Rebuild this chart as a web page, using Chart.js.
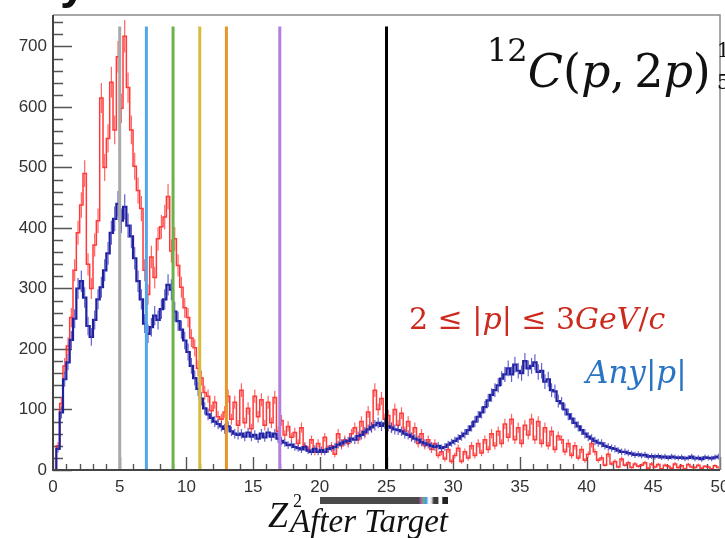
<!DOCTYPE html>
<html>
<head>
<meta charset="utf-8">
<script src="https://cdn.jsdelivr.net/npm/chart.js@4/dist/chart.umd.min.js"></script>
<style>
  html, body { margin: 0; padding: 0; background: #fff; overflow: hidden; }
  #wrap { position: relative; width: 725px; height: 538px; overflow: hidden; background: #fff; }
  canvas { position: absolute; left: 0; top: 0; }
  .t { position: absolute; white-space: nowrap; line-height: 1; font-family: 'DejaVu Serif', serif; }
  .it { font-style: italic; }
</style>
</head>
<body>
<div id="wrap">
  <canvas id="c" width="725" height="538"></canvas>

  <div class="t" style="left:60px; top:-46px; font:bold 48px 'Liberation Sans', sans-serif; color:#111;">y</div>

  <div class="t" style="left:487px; top:48px; font-size:46px; color:#111;"><span style="font-size:32px; position:relative; top:-26px;">12</span><span class="it">C</span>(<span class="it">p</span>,&thinsp;2<span class="it">p</span>)</div>
  <div class="t" style="left:717px; top:40px; font-size:20px; color:#111;">1</div>
  <div class="t" style="left:717px; top:72px; font-size:20px; color:#111;">5</div>

  <div class="t" style="left:409px; top:304px; font-size:30px; color:#cc2a1e;">2 ≤ |<span class="it">p</span>| ≤ 3<span class="it">GeV</span>/<span class="it">c</span></div>
  <div class="t" style="left:586px; top:357px; font-size:31px; color:#2a74c4;"><span class="it">Any</span>|<span class="it">p</span>|</div>

  <div class="t" style="left:268px; top:497px; font-family:'Liberation Serif', serif; font-size:36px; color:#111;"><span class="it">Z</span></div>
  <div class="t" style="left:293px; top:492px; font-family:'Liberation Serif', serif; font-size:18px; color:#111;">2</div>
  <div class="t" style="left:290px; top:505px; font-family:'Liberation Serif', serif; font-size:33px; color:#111;"><span class="it">After Target</span></div>
  <div style="position:absolute; left:320px; top:497px; width:128px; height:7px;
       background:linear-gradient(to right, #4a4a4a 0%, #4a4a4a 77%, #c050c0 79%, #50c060 81%, #4090ff 83%, #ffffff 85%, #e0e0e0 87%, #3a3a3a 89%, #3a3a3a 92%, #fff 93%, #fff 95%, #222 96%, #222 100%);"></div>
</div>

<script>
// Z^2 histograms, bins of 0.25 from 0 to 50
const binWidth = 0.25;

// all momenta
const anyP = [
  0, 35, 95, 150,
  178, 215, 250, 300,
  312, 285, 238, 220,
  248, 282, 302, 330,
  358, 392, 415, 440,
  412, 435, 404, 386,
  350, 312, 282, 242,
  225, 236, 255, 248,
  266, 282, 306, 298,
  262, 246, 232, 214,
  195, 172, 152, 134,
  118, 102, 92, 86,
  80, 76, 72, 68,
  72, 64, 60, 58,
  60, 55, 62, 55,
  58, 52, 60, 54,
  62, 55, 60, 52,
  48, 45, 41, 42,
  38, 36, 34, 38,
  32, 30, 35, 30,
  33, 30, 35, 36,
  38, 42, 44, 47,
  48, 52, 50, 56,
  58, 63, 67, 71,
  74, 78, 73, 77,
  72, 70, 67, 66,
  64, 60, 58, 55,
  52, 50, 46, 44,
  42, 40, 38, 40,
  36, 38, 42, 45,
  48, 52, 56, 60,
  66, 72, 80, 88,
  95, 104, 115, 124,
  132, 140, 151, 158,
  168, 158, 174, 164,
  160, 180, 168, 172,
  178, 162, 164, 146,
  150, 132, 130, 114,
  110, 100, 92, 85,
  78, 72, 66, 60,
  55, 52, 48, 45,
  44, 40, 38, 36,
  35, 32, 30, 30,
  28, 27, 25, 26,
  24, 25, 22, 23,
  22, 23, 21, 22,
  20, 22, 21, 20,
  21, 19, 20, 22,
  19, 20, 18, 21,
  20, 19, 21, 22
];

// 2 <= |p| <= 3 GeV/c
const p2to3 = [
  0, 40, 110, 172,
  205, 252, 330, 392,
  438, 490, 340, 300,
  372, 412, 615, 500,
  548, 641, 562, 683,
  598, 717, 632, 562,
  502, 462, 432, 330,
  290, 352, 318, 382,
  402, 418, 452, 362,
  382, 338, 302, 268,
  252, 218, 202, 168,
  152, 128, 122, 98,
  112, 88, 84, 96,
  122, 84, 112, 74,
  132, 78, 102, 68,
  122, 88, 116, 74,
  112, 78, 120, 64,
  82, 58, 72, 54,
  62, 44, 70, 40,
  34, 50, 30, 44,
  30, 54, 34, 40,
  26, 60, 40, 50,
  44, 60, 70, 50,
  80, 60, 96, 70,
  132, 100, 118, 84,
  90, 70, 100, 74,
  94, 64, 80, 54,
  70, 44, 60, 40,
  50, 34, 44, 24,
  30, 18, 34, 14,
  24, 36, 14, 30,
  20, 40, 24, 44,
  28, 50, 34, 60,
  40, 64, 44, 76,
  54, 84, 50, 70,
  44, 74, 58, 84,
  50, 80, 44, 70,
  40, 64, 34, 56,
  50, 30, 44, 24,
  40, 20, 34, 16,
  26, 44, 30, 16,
  20, 8, 26, 10,
  14, 5, 18, 8,
  12, 4, 10, 6,
  8, 12, 3, 10,
  5, 9, 2, 8,
  6, 3, 10, 4,
  7, 2, 9, 5,
  4, 8, 3, 6,
  5, 2, 7, 4
];

// Z^2 cut markers
const cutValues = [5, 7, 9, 11, 13, 17, 25];
const cutColors = ['#a9a9a9', '#55a6e6', '#6cb24a', '#d6bc3c', '#e8952c', '#b27fe0', '#000000'];
const cutTop = 733;

// axis ticks
const xTickValues = [0, 5, 10, 15, 20, 25, 30, 35, 40, 45, 50];
const yTickValues = [0, 100, 200, 300, 400, 500, 600, 700];

const toPoints = arr => arr.map((v, i) => ({ x: (i + 0.5) * binWidth, y: v }));

const datasets = [];
cutValues.forEach((c, i) => {
  datasets.push({
    data: [{ x: c, y: 0 }, { x: c, y: cutTop }],
    borderColor: cutColors[i],
    borderWidth: 3,
    pointRadius: 0,
    order: 0
  });
});
datasets.push({
  data: toPoints(anyP),
  borderColor: '#20209a',
  borderWidth: 2.2,
  pointRadius: 0,
  stepped: 'middle',
  order: 1,
  errColor: 'rgba(70,70,200,0.85)'
});
datasets.push({
  data: toPoints(p2to3),
  borderColor: 'rgba(255,36,36,0.9)',
  borderWidth: 1.5,
  pointRadius: 0,
  stepped: 'middle',
  order: 2,
  errColor: 'rgba(255,60,60,0.8)'
});

// statistical error bars (sqrt of bin content) on the histograms
const errorBars = {
  id: 'errorBars',
  afterDatasetDraw(chart, args) {
    const ds = chart.data.datasets[args.index];
    if (!ds.errColor) return;
    const { ctx, chartArea: a, scales: { x, y } } = chart;
    ctx.save();
    ctx.beginPath();
    ctx.rect(a.left, a.top, a.right - a.left, a.bottom - a.top);
    ctx.clip();
    ctx.strokeStyle = ds.errColor;
    ctx.lineWidth = 1.2;
    ctx.beginPath();
    ds.data.forEach(p => {
      const e = Math.sqrt(p.y);
      const px = x.getPixelForValue(p.x);
      ctx.moveTo(px, y.getPixelForValue(p.y - e));
      ctx.lineTo(px, y.getPixelForValue(p.y + e));
    });
    ctx.stroke();
    ctx.restore();
  }
};

// frame and inward tick marks
const frameTicks = {
  id: 'frameTicks',
  beforeDatasetsDraw(chart) {
    const { ctx, chartArea: a, scales: { x, y } } = chart;
    ctx.save();
    ctx.strokeStyle = '#555';
    ctx.lineWidth = 1.4;
    ctx.beginPath();
    for (let v = 0; v <= 740; v += 20) {
      const py = Math.round(y.getPixelForValue(v)) + 0.5;
      const len = v % 100 === 0 ? 19 : 10;
      ctx.moveTo(a.left, py); ctx.lineTo(a.left + len, py);
    }
    for (let v = 0; v <= 50; v += 1) {
      const px = Math.round(x.getPixelForValue(v)) + 0.5;
      const len = v % 5 === 0 ? 13 : 6;
      ctx.moveTo(px, a.bottom); ctx.lineTo(px, a.bottom - len);
    }
    ctx.stroke();
    ctx.restore();
  },
  afterDraw(chart) {
    const { ctx, chartArea: a } = chart;
    ctx.save();
    ctx.strokeStyle = '#8a8a8a';
    ctx.lineWidth = 1.5;
    ctx.beginPath();
    ctx.moveTo(a.left, a.top); ctx.lineTo(a.right, a.top); ctx.lineTo(a.right, a.bottom);
    ctx.stroke();
    ctx.strokeStyle = '#444';
    ctx.lineWidth = 2;
    ctx.beginPath();
    ctx.moveTo(a.left, a.top); ctx.lineTo(a.left, a.bottom); ctx.lineTo(a.right, a.bottom);
    ctx.stroke();
    ctx.restore();
  }
};

new Chart(document.getElementById('c'), {
  type: 'line',
  data: { datasets },
  options: {
    responsive: false,
    animation: false,
    events: [],
    layout: { padding: { top: 15, right: 5, left: 0, bottom: 0 } },
    plugins: { legend: { display: false }, tooltip: { enabled: false } },
    elements: { line: { tension: 0 } },
    scales: {
      x: {
        type: 'linear',
        min: 0, max: 50,
        grid: { display: false, drawTicks: false },
        border: { display: false },
        afterBuildTicks: s => { s.ticks = xTickValues.map(v => ({ value: v })); },
        afterFit: s => { s.height = 68; s.paddingLeft = 0; s.paddingRight = 0; },
        ticks: {
          padding: 7,
          maxRotation: 0,
          autoSkip: false,
          color: '#333',
          font: { family: "'Liberation Sans', Arial, sans-serif", size: 17 }
        }
      },
      y: {
        type: 'linear',
        min: 0, max: 752,
        grid: { display: false, drawTicks: false },
        border: { display: false },
        afterBuildTicks: s => { s.ticks = yTickValues.map(v => ({ value: v })); },
        afterFit: s => { s.width = 53; s.paddingTop = 0; s.paddingBottom = 0; },
        ticks: {
          padding: 6,
          autoSkip: false,
          color: '#333',
          font: { family: "'Liberation Sans', Arial, sans-serif", size: 17 }
        }
      }
    }
  },
  plugins: [frameTicks, errorBars]
});
</script>
</body>
</html>
